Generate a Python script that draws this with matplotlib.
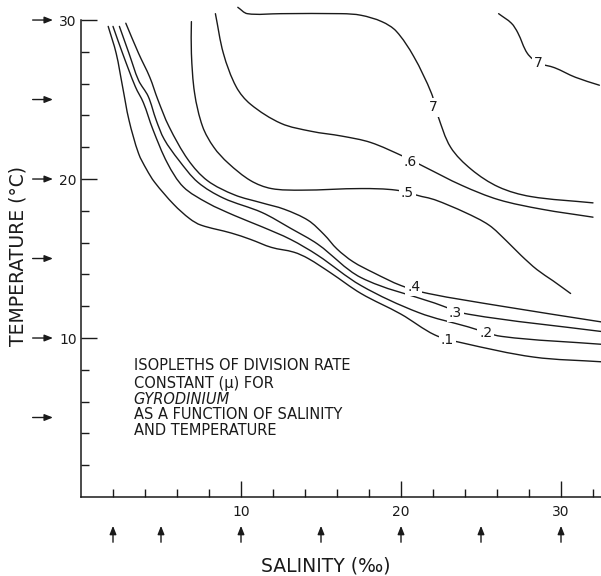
import matplotlib
matplotlib.use("Agg")
import matplotlib.pyplot as plt
import matplotlib.transforms as mtransforms
from matplotlib.path import Path
from matplotlib.patches import PathPatch
import numpy as np

# ---- isopleth data (salinity ‰, temperature °C) ----
mu_levels = [".1", ".2", ".3", ".4", ".5", ".6", "7", "7"]

sal_01 = [1.7, 2.2, 2.6, 3.0, 3.6, 4.1, 4.6, 5.8, 6.8, 7.5, 9.4, 10.6, 11.9, 13.3, 14.2, 15.6, 17.5, 20.0, 22.1, 23.8, 28.3, 32.6]
tmp_01 = [29.6, 27.9, 25.8, 23.7, 21.6, 20.6, 19.8, 18.4, 17.5, 17.1, 16.6, 16.2, 15.7, 15.4, 15.0, 14.1, 12.8, 11.5, 10.2, 9.7, 8.8, 8.5]

sal_02 = [2.0, 2.6, 3.4, 3.9, 4.5, 5.4, 6.4, 7.9, 9.6, 11.3, 13.1, 14.8, 17.5, 21.1, 24.2, 26.3, 32.6]
tmp_02 = [29.6, 27.9, 25.8, 24.8, 23.1, 21.0, 19.5, 18.5, 17.7, 17.0, 16.2, 15.2, 13.3, 11.6, 10.7, 10.1, 9.6]

sal_03 = [2.4, 3.0, 3.6, 4.2, 4.7, 5.2, 6.1, 7.3, 8.9, 11.3, 13.1, 14.8, 17.5, 22.1, 24.2, 32.6]
tmp_03 = [29.6, 27.9, 26.2, 25.2, 23.7, 22.5, 21.2, 19.8, 18.8, 17.9, 16.9, 15.9, 13.8, 12.2, 11.5, 10.4]

sal_04 = [2.8, 3.6, 4.3, 4.8, 5.5, 6.7, 7.9, 9.6, 11.3, 12.7, 14.2, 15.2, 16.0, 17.0, 18.3, 20.0, 21.7, 26.3, 32.6]
tmp_04 = [29.8, 27.9, 26.4, 25.0, 23.3, 21.2, 19.9, 19.0, 18.5, 18.1, 17.4, 16.5, 15.6, 14.8, 14.1, 13.3, 12.8, 12.0, 11.0]

sal_05 = [6.9, 6.9, 7.1, 7.6, 8.3, 9.2, 10.6, 11.9, 13.8, 17.5, 19.7, 21.3, 22.1, 24.0, 25.5, 26.6, 27.5, 28.5, 29.5, 30.6]
tmp_05 = [29.9, 27.9, 25.4, 23.3, 22.0, 21.0, 19.9, 19.4, 19.3, 19.4, 19.3, 18.9, 18.7, 17.9, 17.1, 16.1, 15.2, 14.3, 13.6, 12.8]

sal_06 = [8.4, 8.9, 9.7, 10.6, 12.5, 14.4, 16.3, 18.1, 20.2, 21.4, 23.8, 26.1, 28.8, 32.0]
tmp_06 = [30.4, 27.9, 25.8, 24.7, 23.5, 23.0, 22.7, 22.3, 21.4, 20.8, 19.6, 18.7, 18.1, 17.6]

sal_07a = [9.8, 10.4, 12.5, 16.3, 17.5, 18.8, 19.7, 20.8, 21.9, 22.3, 23.1, 24.4, 26.1, 28.1, 32.0]
tmp_07a = [30.8, 30.4, 30.4, 30.4, 30.3, 29.9, 29.3, 27.7, 25.4, 24.0, 22.0, 20.6, 19.5, 18.9, 18.5]

sal_07b = [26.1, 26.9, 27.3, 27.9, 28.6, 29.6, 30.9, 32.4]
tmp_07b = [30.4, 29.8, 29.2, 27.9, 27.3, 27.0, 26.4, 25.9]

curves_sal = [sal_01, sal_02, sal_03, sal_04, sal_05, sal_06, sal_07a, sal_07b]
curves_tmp = [tmp_01, tmp_02, tmp_03, tmp_04, tmp_05, tmp_06, tmp_07a, tmp_07b]

# label positions along the curves
label_sal = [22.9, 25.3, 23.4, 20.8, 20.4, 20.6, 22.0, 28.6]
label_tmp = [9.9, 10.3, 11.6, 13.2, 19.1, 21.1, 24.5, 27.3]

# experimental levels marked by arrows
sal_arrows = [2, 5, 10, 15, 20, 25, 30]
tmp_arrows = [30, 25, 20, 15, 10, 5]

x_major = [10, 20, 30]
y_major = [10, 20, 30]

note_lines = ["ISOPLETHS OF DIVISION RATE", "CONSTANT (\u03bc) FOR", "GYRODINIUM",
              "AS A FUNCTION OF SALINITY", "AND TEMPERATURE"]
note_italic = [False, False, True, False, False]

ink = "#1a1a1a"


def smooth_path(xs, ys):
    """Bezier path passing through every given point (smooth drawing only)."""
    p = np.column_stack([xs, ys]).astype(float)
    n = len(p)
    d = np.hypot(*np.diff(p, axis=0).T)
    tang = np.zeros_like(p)
    tang[0] = (p[1] - p[0]) / d[0]
    tang[-1] = (p[-1] - p[-2]) / d[-1]
    for i in range(1, n - 1):
        tang[i] = (p[i + 1] - p[i - 1]) / (d[i - 1] + d[i])
    verts = [p[0]]
    codes = [Path.MOVETO]
    for i in range(n - 1):
        c1 = p[i] + tang[i] * d[i] / 3
        c2 = p[i + 1] - tang[i + 1] * d[i] / 3
        verts += [c1, c2, p[i + 1]]
        codes += [Path.CURVE4] * 3
    return Path(verts, codes)


fig = plt.figure(figsize=(6.01, 5.76), dpi=100)
ax = fig.add_axes([81 / 601, 79 / 576, 520 / 601, 497 / 576])
ax.set_xlim(0, 32.5)
ax.set_ylim(0, 31.26)

for s, t in zip(curves_sal, curves_tmp):
    ax.add_patch(PathPatch(smooth_path(s, t), facecolor="none", edgecolor=ink,
                           lw=1.0, capstyle="round", joinstyle="round"))

for lab, s, t in zip(mu_levels, label_sal, label_tmp):
    ax.text(s, t, lab, ha="center", va="center", fontsize=10, color=ink,
            bbox=dict(facecolor="white", edgecolor="none", pad=1.5), zorder=5)

# spines and ticks
ax.spines["top"].set_visible(False)
ax.spines["right"].set_visible(False)
ax.spines["left"].set_bounds(0, 30)
for sp in ("left", "bottom"):
    ax.spines[sp].set_linewidth(1.1)
    ax.spines[sp].set_color(ink)

ax.set_xticks(x_major)
ax.set_xticks(np.arange(2, 33, 2), minor=True)
ax.set_yticks(y_major)
ax.set_yticks(np.arange(2, 30, 2), minor=True)
ax.tick_params(which="major", direction="in", length=11.5, width=1.0, color=ink,
               labelsize=10, labelcolor=ink)
ax.tick_params(which="minor", direction="in", length=6, width=1.0, color=ink)
ax.tick_params(axis="x", which="major", pad=6)
ax.tick_params(axis="y", which="major", pad=3)

# arrows marking experimental conditions
ty = mtransforms.blended_transform_factory(ax.transAxes, ax.transData)
for lvl in tmp_arrows:
    ax.annotate("", xy=(-0.054, lvl), xytext=(-0.093, lvl), xycoords=ty, textcoords=ty,
                arrowprops=dict(arrowstyle="-|>,head_length=0.5,head_width=0.2",
                                color=ink, lw=1.0, shrinkA=0, shrinkB=0),
                annotation_clip=False)
tx = mtransforms.blended_transform_factory(ax.transData, ax.transAxes)
for lvl in sal_arrows:
    ax.annotate("", xy=(lvl, -0.058), xytext=(lvl, -0.091), xycoords=tx, textcoords=tx,
                arrowprops=dict(arrowstyle="-|>,head_length=0.5,head_width=0.2",
                                color=ink, lw=1.0, shrinkA=0, shrinkB=0),
                annotation_clip=False)

# explanatory note
note_y = [8.30, 7.17, 6.16, 5.22, 4.21]
for txt, it, yy in zip(note_lines, note_italic, note_y):
    ax.text(3.3, yy, txt, ha="left", va="center", fontsize=10.5, color=ink,
            style="italic" if it else "normal")

fig.text(326 / 601, 1 - 566 / 576, "SALINITY (\u2030)", ha="center", va="center",
         fontsize=13.5, color=ink)
fig.text(18 / 601, 1 - 256 / 576, "TEMPERATURE (\u00b0C)", ha="center", va="center",
         rotation=90, fontsize=13.5, color=ink)

fig.savefig("out.png", dpi=100)
